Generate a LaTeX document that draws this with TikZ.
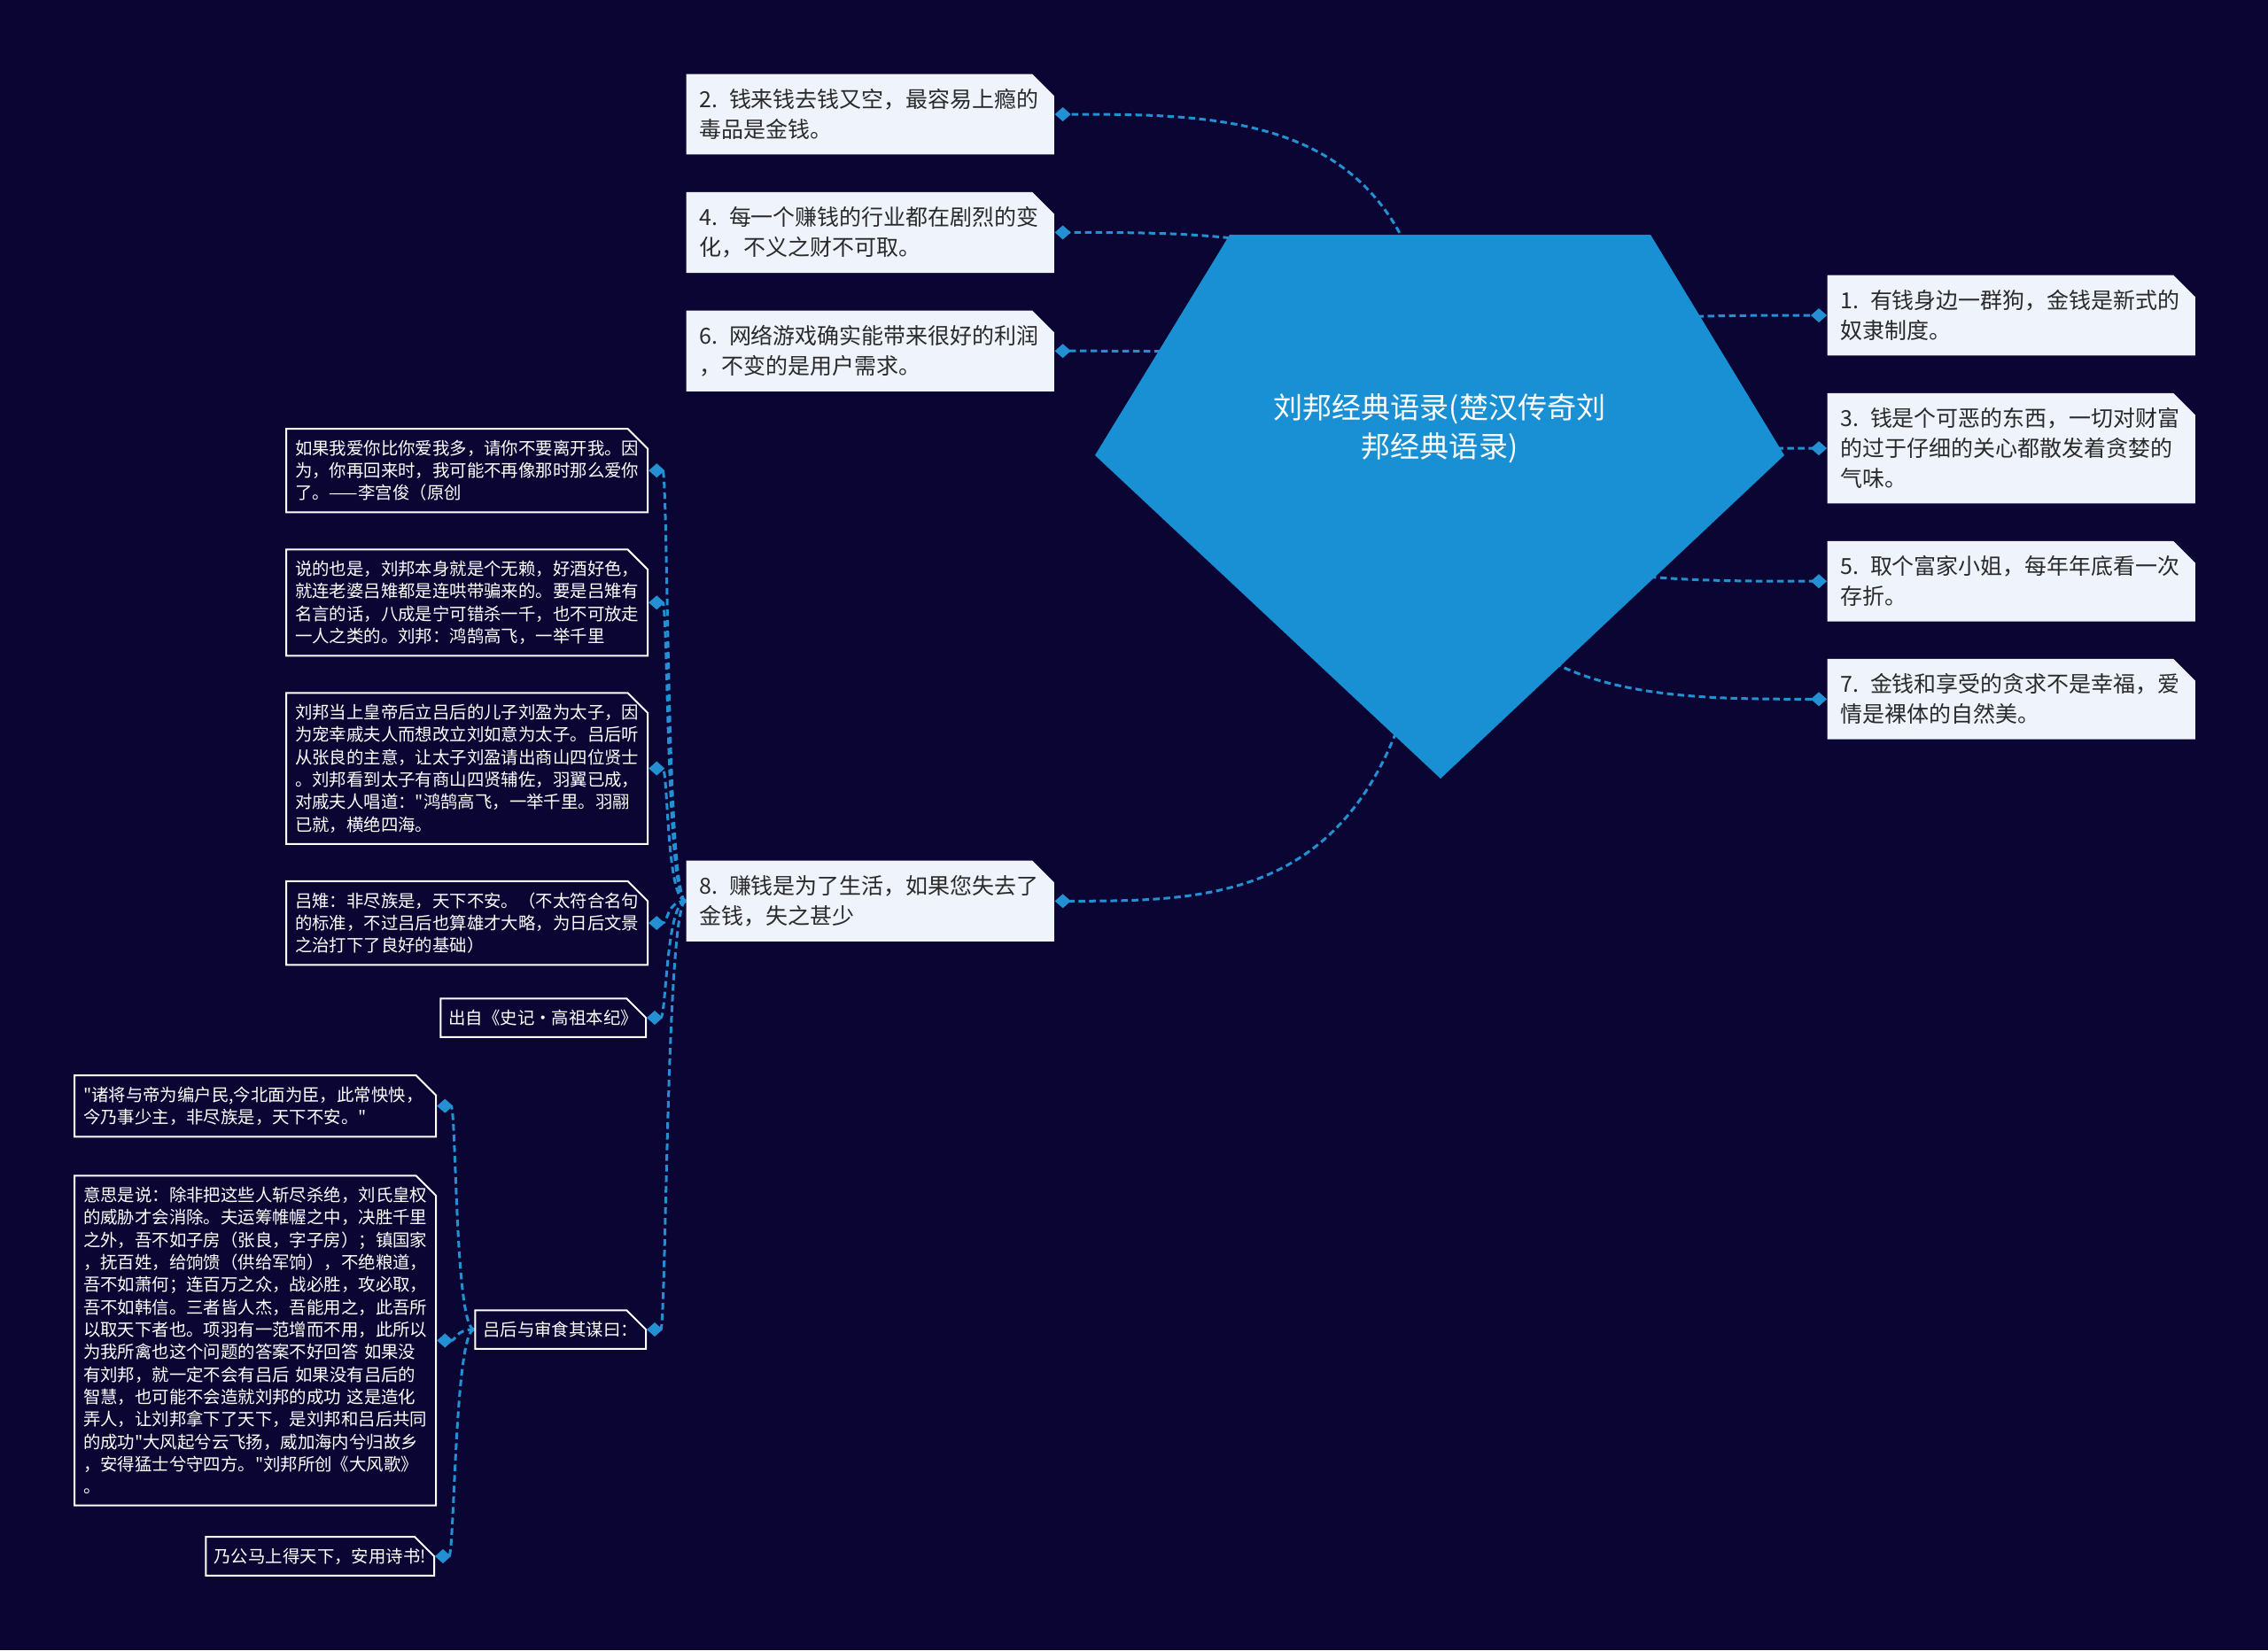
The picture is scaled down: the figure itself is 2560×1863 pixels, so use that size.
\documentclass[tikz,border=0pt]{standalone}
\usepackage{fontspec}
\setmainfont{Noto Sans CJK SC}[Ligatures=TeXOff]
\usetikzlibrary{positioning,calc,shapes.misc,arrows.meta}
\definecolor{bgnavy}{HTML}{0A0532}
\definecolor{rootblue}{HTML}{1A90D4}
\definecolor{linkblue}{HTML}{2490D4}
\definecolor{cardfill}{HTML}{EEF3FC}
\definecolor{cardtext}{HTML}{2A2A2A}
\pgfdeclarelayer{back}
\pgfsetlayers{back,main}
\newcommand{\qsize}{\fontsize{7.1pt}{9.67pt}\selectfont}
\newcommand{\ssize}{\fontsize{5.52pt}{7.2pt}\selectfont}
\newcommand{\rsize}{\fontsize{9.4pt}{12.5pt}\selectfont}

\begin{document}
\begin{tikzpicture}[x=0.01cm, y=0.01cm, node distance=0.41cm,
    qbox/.style={chamfered rectangle, chamfered rectangle corners=north east, chamfered rectangle xsep=0.12cm, fill=cardfill, text=cardtext, inner xsep=0.03cm, inner ysep=0.04cm, text width=3.85cm, align=left, font=\qsize},
    sbox/.style={chamfered rectangle, chamfered rectangle corners=north east, chamfered rectangle xsep=0.1cm, draw=white, line width=0.02cm, fill=bgnavy, text=white, inner xsep=0pt, inner ysep=0pt, align=left, font=\ssize},
    wide/.style={text width=3.88cm},
    link/.style={draw=linkblue, line width=0.03cm, dash pattern=on 0.075cm off 0.045cm, -{Diamond[length=0.18cm, width=0.16cm, fill=linkblue]}}]
    \fill[rootblue] (1388,-265) -- (1863,-265) -- (2014,-514) -- (1626,-879) -- (1236,-514) -- cycle;
    \node[text=white, align=center, font=\rsize] (root) at (1625,-484) {刘邦经典语录(楚汉传奇刘\\邦经典语录)};

    \node[qbox, anchor=north west] (q2) at (774,-83) {2. 钱来钱去钱又空，最容易上瘾的\\毒品是金钱。};
    \node[qbox, below=of q2] (q4) {4. 每一个赚钱的行业都在剧烈的变\\化，不义之财不可取。};
    \node[qbox, below=of q4] (q6) {6. 网络游戏确实能带来很好的利润\\，不变的是用户需求。};
    \node[qbox, anchor=north west] (q8) at (774,-971) {8. 赚钱是为了生活，如果您失去了\\金钱，失之甚少};
    \node[qbox, anchor=north west] (q1) at (2062,-310) {1. 有钱身边一群狗，金钱是新式的\\奴隶制度。};
    \node[qbox, below=of q1] (q3) {3. 钱是个可恶的东西，一切对财富\\的过于仔细的关心都散发着贪婪的\\气味。};
    \node[qbox, below=of q3] (q5) {5. 取个富家小姐，每年年底看一次\\存折。};
    \node[qbox, below=of q5] (q7) {7. 金钱和享受的贪求不是幸福，爱\\情是裸体的自然美。};

    \node[sbox, wide, anchor=north west] (s1) at (322,-483) {如果我爱你比你爱我多，请你不要离开我。因\\为，你再回来时，我可能不再像那时那么爱你\\了。——李宫俊（原创};
    \node[sbox, wide, below=0.4cm of s1] (s2) {说的也是，刘邦本身就是个无赖，好酒好色，\\就连老婆吕雉都是连哄带骗来的。要是吕雉有\\名言的话，八成是宁可错杀一千，也不可放走\\一人之类的。刘邦：鸿鹄高飞，一举千里};
    \node[sbox, wide, below=0.4cm of s2] (s3) {刘邦当上皇帝后立吕后的儿子刘盈为太子，因\\为宠幸戚夫人而想改立刘如意为太子。吕后听\\从张良的主意，让太子刘盈请出商山四位贤士\\。刘邦看到太子有商山四贤辅佐，羽翼已成，\\对戚夫人唱道："鸿鹄高飞，一举千里。羽翮\\已就，横绝四海。};
    \node[sbox, wide, below=0.4cm of s3] (s4) {吕雉：非尽族是，天下不安。（不太符合名句\\的标准，不过吕后也算雄才大略，为日后文景\\之治打下了良好的基础）};
    \node[sbox, anchor=east] (s5) at (730,-1149) {出自《史记·高祖本纪》};
    \node[sbox, anchor=east] (s6) at (730,-1501) {吕后与审食其谋曰：};

    \node[sbox, wide, anchor=north west] (t1) at (83,-1213) {"诸将与帝为编户民,今北面为臣，此常怏怏，\\今乃事少主，非尽族是，天下不安。"};
    \node[sbox, wide, below=0.42cm of t1] (t2) {意思是说：除非把这些人斩尽杀绝，刘氏皇权\\的威胁才会消除。夫运筹帷幄之中，决胜千里\\之外，吾不如子房（张良，字子房）；镇国家\\，抚百姓，给饷馈（供给军饷），不绝粮道，\\吾不如萧何；连百万之众，战必胜，攻必取，\\吾不如韩信。三者皆人杰，吾能用之，此吾所\\以取天下者也。项羽有一范增而不用，此所以\\为我所禽也这个问题的答案不好回答 如果没\\有刘邦，就一定不会有吕后 如果没有吕后的\\智慧，也可能不会造就刘邦的成功 这是造化\\弄人，让刘邦拿下了天下，是刘邦和吕后共同\\的成功"大风起兮云飞扬，威加海内兮归故乡\\，安得猛士兮守四方。"刘邦所创《大风歌》\\。};
    \node[sbox, anchor=east] (t3) at (491,-1757) {乃公马上得天下，安用诗书!};

    \begin{pgfonlayer}{back}
    \fill[bgnavy] (0,0) rectangle (2560,-1863);
    \foreach \n in {q2,q4,q6,q8}
      \draw[link] (root.center) .. controls (root.center |- \n.east) and ($(root.center |- \n.east)!0.5!(\n.east)$) .. (\n.east);
    \foreach \n in {q1,q3,q5,q7}
      \draw[link] (root.center) .. controls (root.center |- \n.west) and ($(root.center |- \n.west)!0.5!(\n.west)$) .. (\n.west);
    \foreach \n in {s1,s2,s3,s4,s5,s6}
      \draw[link] (q8.west) .. controls +(-22,0) and +(22,0) .. (\n.east);
    \foreach \n in {t1,t2,t3}
      \draw[link] (s6.west) .. controls +(-22,0) and +(22,0) .. (\n.east);
    \end{pgfonlayer}
    \useasboundingbox (0,0) rectangle (2560,-1863);
\end{tikzpicture}
\end{document}
